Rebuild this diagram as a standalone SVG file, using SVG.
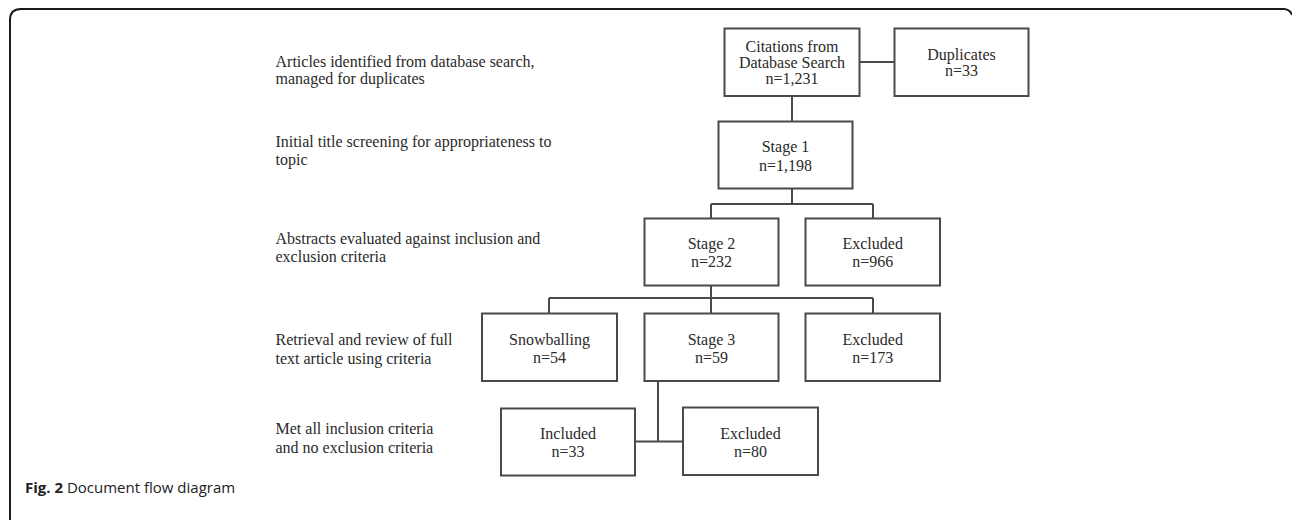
<svg xmlns="http://www.w3.org/2000/svg" width="1292" height="520" viewBox="0 0 1292 520">
<style>
.box{fill:#fff;stroke:#4a4a4a;stroke-width:2}
.ln{fill:none;stroke:#4a4a4a;stroke-width:2}
.t{font-family:"Liberation Serif","Times New Roman",serif;font-size:16px;fill:#2a2a2a}
.c{text-anchor:middle}
.cap{font-family:"Open Sans","Noto Sans",sans-serif;font-size:15px;fill:#222}
</style>
<rect width="1292" height="520" fill="#fff"/>
<path d="M10 520 V20 Q10 9 21 9 H1283 Q1290 9 1292 15" fill="none" stroke="#1a1a1a" stroke-width="2"/>
<g id="labels" class="t">
<text x="275.5" y="66.7">Articles identified from database search,</text>
<text x="275.5" y="84">managed for duplicates</text>
<text x="275.5" y="146.7">Initial title screening for appropriateness to</text>
<text x="275.5" y="165">topic</text>
<text x="275.5" y="244">Abstracts evaluated against inclusion and</text>
<text x="275.5" y="261.7">exclusion criteria</text>
<text x="275.5" y="345">Retrieval and review of full</text>
<text x="275.5" y="363.5">text article using criteria</text>
<text x="275.5" y="434">Met all inclusion criteria</text>
<text x="275.5" y="452.5">and no exclusion criteria</text>
</g>
<g id="connectors" class="ln">
<path d="M859.5 62 H894.5"/>
<path d="M792 96 V121.5"/>
<path d="M792 188.5 V204 M711 204 H873 M711 204 V218.5 M873 204 V218.5"/>
<path d="M711 285.5 V313.5 M549 298 H873 M549 298 V313.5 M873 298 V313.5"/>
<path d="M658 381 V441.5 M635 441.5 H683"/>
</g>
<g id="citations"><rect class="box" x="724.5" y="28.5" width="135" height="67.5"/>
<text class="t c" x="792" y="51.7">Citations from</text><text class="t c" x="792" y="67.7">Database Search</text><text class="t c" x="792" y="84">n=1,231</text></g>
<g id="duplicates"><rect class="box" x="894.5" y="28.5" width="134" height="67.5"/>
<text class="t c" x="961.5" y="60">Duplicates</text><text class="t c" x="961.5" y="76">n=33</text></g>
<g id="stage1"><rect class="box" x="718.5" y="121.5" width="134" height="67"/>
<text class="t c" x="785.5" y="152">Stage 1</text><text class="t c" x="785.5" y="171">n=1,198</text></g>
<g id="stage2"><rect class="box" x="644.5" y="218.5" width="134" height="67"/>
<text class="t c" x="711.5" y="249.3">Stage 2</text><text class="t c" x="711.5" y="267.3">n=232</text></g>
<g id="excluded966"><rect class="box" x="805.5" y="218.5" width="134.5" height="67"/>
<text class="t c" x="872.7" y="249.3">Excluded</text><text class="t c" x="872.7" y="267.3">n=966</text></g>
<g id="snowballing"><rect class="box" x="482" y="313.5" width="135" height="67.5"/>
<text class="t c" x="549.5" y="344.5">Snowballing</text><text class="t c" x="549.5" y="362.5">n=54</text></g>
<g id="stage3"><rect class="box" x="644.5" y="313.5" width="134" height="67.5"/>
<text class="t c" x="711.5" y="344.5">Stage 3</text><text class="t c" x="711.5" y="362.5">n=59</text></g>
<g id="excluded173"><rect class="box" x="805.5" y="313.5" width="134.5" height="67.5"/>
<text class="t c" x="872.7" y="344.5">Excluded</text><text class="t c" x="872.7" y="362.5">n=173</text></g>
<g id="included"><rect class="box" x="501" y="408.5" width="134" height="67"/>
<text class="t c" x="568" y="439">Included</text><text class="t c" x="568" y="457">n=33</text></g>
<g id="excluded80"><rect class="box" x="683" y="407.5" width="135" height="67.5"/>
<text class="t c" x="750.5" y="438.5">Excluded</text><text class="t c" x="750.5" y="456.5">n=80</text></g>
<g id="caption"><text class="cap" x="25" y="493"><tspan font-weight="bold">Fig. 2</tspan> Document flow diagram</text></g>
</svg>
